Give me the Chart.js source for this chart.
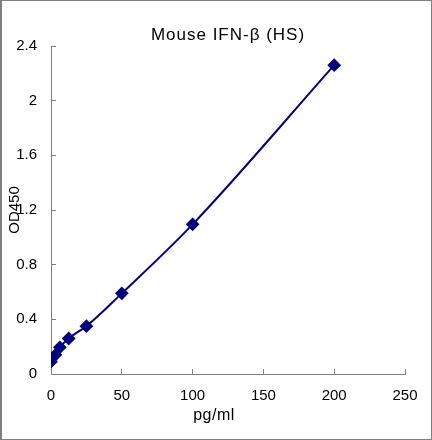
<!DOCTYPE html>
<html>
<head>
<meta charset="utf-8">
<script src="https://cdn.jsdelivr.net/npm/chart.js@4"></script>
<style>
  body { margin: 0; background: #fff; }
  #wrap { width: 432px; height: 440px; box-sizing: border-box; border: 1px solid #808080; border-left-width: 2px; }
  canvas { display: block; }
</style>
</head>
<body>
<div id="wrap"><canvas id="graficaCanvas" width="429" height="438"></canvas></div>
<script>
// concentracions estàndard (pg/ml) i OD450 llegides
const concentracions = [0, 3.125, 6.25, 12.5, 25, 50, 100, 200];
const od450 = [0.09, 0.14, 0.195, 0.26, 0.35, 0.59, 1.095, 2.26];
const xTicks = [0, 50, 100, 150, 200, 250];
const yTicks = ['0', '0.4', '0.8', '1.2', '1.6', '2', '2.4'];

const titol = 'Mouse IFN-\u03b2 (HS)';
const titolX = 'pg/ml';
const titolY = 'OD450';

const FONT = '"Liberation Sans", Arial, sans-serif';
const GRIS = '#808080';

// textos col·locats com a l'original (el títol Y es solapa amb les etiquetes)
const textos = {
    id: 'textos',
    afterDraw(chart) {
        const c = chart.ctx, a = chart.chartArea;
        c.save();
        c.fillStyle = '#000';
        c.textAlign = 'center';
        c.textBaseline = 'alphabetic';
        c.font = '17px ' + FONT;
        c.letterSpacing = '1px';
        c.fillText(titol, (a.left + a.right) / 2, 39);
        c.font = '16px ' + FONT;
        c.letterSpacing = '0.5px';
        c.fillText(titolX, 212, 419);
        c.letterSpacing = '0px';
        c.translate(13, (a.top + a.bottom) / 2);
        c.rotate(-Math.PI / 2);
        c.textBaseline = 'middle';
        c.font = '15px ' + FONT;
        c.fillText(titolY, 0, 0);
        c.restore();
    }
};

const punts = concentracions.map((x, i) => ({ x: x, y: od450[i] }));

new Chart(document.getElementById('graficaCanvas').getContext('2d'), {
    type: 'scatter',
    data: { datasets: [{
        data: punts, showLine: true, borderColor: '#000080', backgroundColor: '#000080',
        borderWidth: 2, pointStyle: 'rectRot', pointRadius: 5.5, pointHoverRadius: 5.5,
        cubicInterpolationMode: 'monotone', fill: false
    }] },
    options: {
        responsive: false, animation: false,
        layout: { padding: { top: 45, left: 0, right: 0, bottom: 0 } },
        plugins: { legend: { display: false }, tooltip: { enabled: false }, title: { display: false } },
        scales: {
            x: {
                type: 'linear', min: 0, max: 250,
                afterBuildTicks: (s) => { s.ticks = xTicks.map(v => ({ value: v })); },
                // marge dret fix perquè 250 quedi on és a l'original
                afterFit: (s) => { s.height = 65; s.paddingRight = 26; s.paddingLeft = 0; },
                border: { color: GRIS, width: 1 },
                grid: { drawOnChartArea: false, tickLength: -5, color: GRIS },
                ticks: { color: '#000', padding: 18, font: { family: FONT, size: 15 } }
            },
            y: {
                type: 'linear', min: 0, max: 2.4,
                afterBuildTicks: (s) => { s.ticks = yTicks.map(v => ({ value: parseFloat(v) })); },
                afterFit: (s) => { s.width = 49; },
                border: { color: GRIS, width: 1 },
                grid: { drawOnChartArea: false, tickLength: -5, color: GRIS },
                ticks: { color: '#000', padding: 19, font: { family: FONT, size: 15 },
                         callback: (v, i) => yTicks[i] }
            }
        }
    },
    plugins: [textos]
});
</script>
</body>
</html>
